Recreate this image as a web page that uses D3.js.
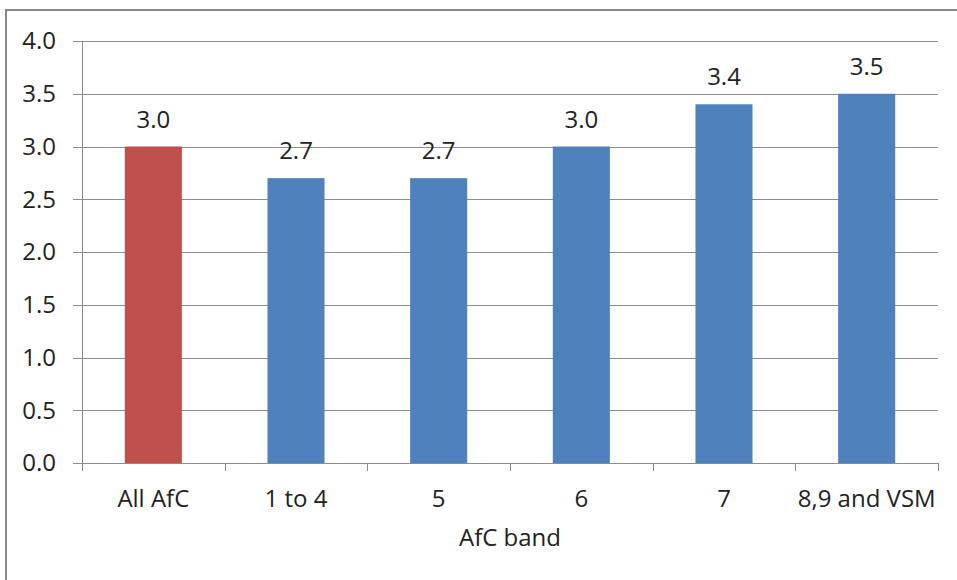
<!DOCTYPE html>
<html><head><meta charset="utf-8">
<script src="https://cdn.jsdelivr.net/npm/d3@7"></script>
<style>body{margin:0;background:#fff}svg{display:block}</style>
</head><body>
<script>
const categories = ["All AfC", "1 to 4", "5", "6", "7", "8,9 and VSM"];
const values = [3.0, 2.7, 2.7, 3.0, 3.4, 3.5];
const barColors = ["#C0504D", "#4F81BD", "#4F81BD", "#4F81BD", "#4F81BD", "#4F81BD"];
const yTicks = [0, 0.5, 1.0, 1.5, 2.0, 2.5, 3.0, 3.5, 4.0];
const xTitle = "AfC band";

const W = 957, H = 580;
const m = {left: 82, right: 19, top: 41, bottom: 117};
const font = "'Open Sans', sans-serif";
const fs = 24;
const grey = "#8c8c8c";

const svg = d3.select("body").append("svg").attr("width", W).attr("height", H);
svg.append("rect").attr("x", 6).attr("y", 10).attr("width", W + 10).attr("height", H + 10)
  .attr("fill", "#fff").attr("stroke", "#888").attr("stroke-width", 2);

const x = d3.scaleBand().domain(categories).range([m.left, W - m.right]).paddingInner(0.6).paddingOuter(0.3);
const y = d3.scaleLinear().domain([0, 4]).range([H - m.bottom, m.top]);

const g = svg.append("g");
// gridlines + y ticks
g.selectAll("line.grid").data(yTicks).join("line")
  .attr("x1", m.left - 9).attr("x2", W - m.right)
  .attr("y1", d => Math.round(y(d)) + 0.5).attr("y2", d => Math.round(y(d)) + 0.5)
  .attr("stroke", grey).attr("stroke-width", 1);
g.selectAll("text.yt").data(yTicks).join("text")
  .attr("x", m.left - 26).attr("y", d => y(d)).attr("dy", "0.35em")
  .attr("text-anchor", "end").attr("font-family", font).attr("font-size", fs).attr("fill", "#222")
  .text(d => d.toFixed(1));

// bars
g.selectAll("rect.bar").data(values).join("rect")
  .attr("x", (d, i) => x(categories[i])).attr("width", x.bandwidth())
  .attr("y", d => y(d)).attr("height", d => y(0) - y(d))
  .attr("fill", (d, i) => barColors[i]);

// value labels
g.selectAll("text.vl").data(values).join("text")
  .attr("x", (d, i) => x(categories[i]) + x.bandwidth() / 2).attr("y", d => y(d) - 19)
  .attr("text-anchor", "middle").attr("font-family", font).attr("font-size", fs).attr("fill", "#222")
  .text(d => d.toFixed(1));

// y axis line
g.append("line").attr("x1", m.left + 0.5).attr("x2", m.left + 0.5).attr("y1", y(4)).attr("y2", y(0))
  .attr("stroke", grey);
// x axis ticks at band boundaries
const step = x.step();
const bounds = d3.range(categories.length + 1).map(i => x(categories[0]) - step * x.paddingOuter() + i * step);
g.selectAll("line.xt").data(bounds).join("line")
  .attr("x1", d => Math.round(d) + 0.5).attr("x2", d => Math.round(d) + 0.5)
  .attr("y1", y(0)).attr("y2", y(0) + 8).attr("stroke", grey);

// x labels
g.selectAll("text.xl").data(categories).join("text")
  .attr("x", d => x(d) + x.bandwidth() / 2).attr("y", 507)
  .attr("text-anchor", "middle").attr("font-family", font).attr("font-size", fs).attr("fill", "#222")
  .text(d => d);

svg.append("text").attr("x", (m.left + W - m.right) / 2).attr("y", 546)
  .attr("text-anchor", "middle").attr("font-family", font).attr("font-size", fs).attr("fill", "#222")
  .text(xTitle);
</script>
</body></html>
